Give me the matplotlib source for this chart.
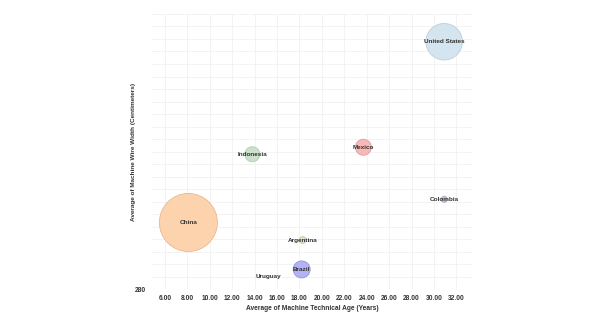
import numpy as np
import matplotlib
matplotlib.use("Agg")
import matplotlib.pyplot as plt

countries = ["United States", "China", "Indonesia", "Mexico", "Colombia",
             "Argentina", "Brazil", "Uruguay"]
tech_age = [30.9, 8.1, 13.8, 23.7, 30.9, 18.3, 18.2, 15.2]
wire_width = [477.8, 333.4, 387.9, 393.5, 351.9, 319.4, 295.9, 290.0]
machine_count = [690, 1745, 117, 133, 19, 25, 150, 0]

colors = ["#d5e5ef", "#fdd3ae", "#cde0cb", "#f6b9b8", "#c9c9d3",
          "#d9e6cc", "#b3b3f4", "#ffffff"]
edges = ["#b9cfdd", "#e8b98e", "#b2ccb0", "#e39c9b", "#a9a9b8",
         "#bccfae", "#9393df", "#ffffff"]

plt.rcParams["font.family"] = ["Liberation Sans", "DejaVu Sans"]

fig = plt.figure(figsize=(6, 3.24), dpi=100)
ax = fig.add_axes([0.253, 0.107, 0.534, 0.850])

ax.scatter(tech_age, wire_width, s=machine_count, c=colors,
           edgecolors=edges, linewidths=0.6, zorder=3)

for name, x, y in zip(countries, tech_age, wire_width):
    ax.text(x, y, name, ha="center", va="center", fontsize=4.6,
            fontweight="bold", color="#333333", zorder=4)

ax.set_xlim(4.84, 33.4)
ax.set_ylim(280, 500)
ax.set_xticks(np.arange(6, 33, 2))
ax.set_xticklabels([f"{v:.2f}" for v in np.arange(6, 33, 2)])
ax.set_yticks(np.arange(280, 501, 10))
ax.set_yticklabels(["280"] + [""] * 22)

ax.grid(True, color="#eeeeee", linewidth=0.5, zorder=0)
for s in ax.spines.values():
    s.set_visible(False)
ax.tick_params(length=0, labelsize=4.8, pad=4)
for lbl in ax.get_xticklabels() + ax.get_yticklabels():
    lbl.set_fontweight("bold")
    lbl.set_color("#333333")

ax.set_xlabel("Average of Machine Technical Age (Years)", fontsize=4.8,
              fontweight="bold", color="#333333", labelpad=2)
ax.set_ylabel("Average of Machine Wire Width (Centimeters)", fontsize=4.6,
              fontweight="bold", color="#333333")
ax.yaxis.set_label_coords(-0.05, 0.5)

fig.savefig("out.png", dpi=100)
